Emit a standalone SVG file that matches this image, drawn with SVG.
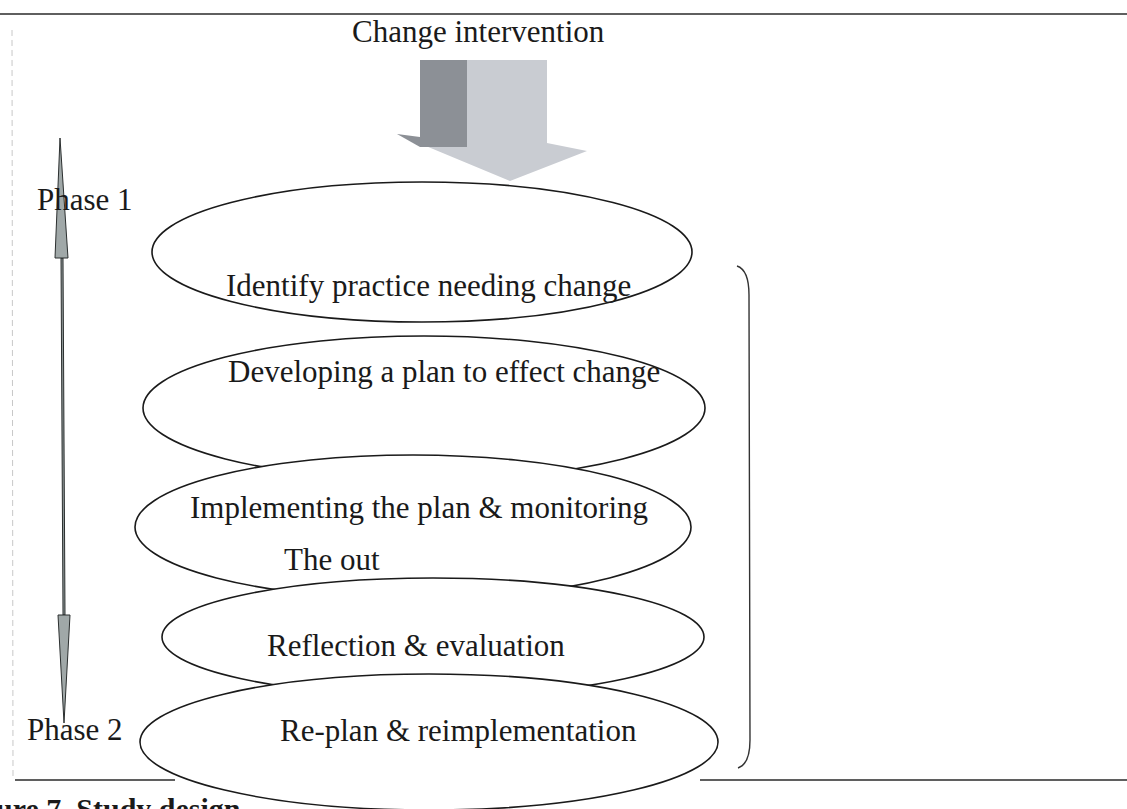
<svg xmlns="http://www.w3.org/2000/svg" width="1127" height="809" viewBox="0 0 1127 809">
<style>
.t{font-family:"Liberation Serif","Times New Roman",serif;font-size:31px;fill:#1a1a1a}
.e{fill:#fff;stroke:#1a1a1a;stroke-width:1.6}
.rule{stroke:#2a2a2a;stroke-width:1.6}
</style>
<rect width="1127" height="809" fill="#fff"/>
<g id="frame">
<line class="rule" x1="0" y1="14" x2="1127" y2="14"/>
<line class="rule" x1="15" y1="780" x2="175" y2="780"/>
<line class="rule" x1="700" y1="780" x2="1127" y2="780"/>
<line x1="12" y1="30" x2="13" y2="780" stroke="#c8c8c8" stroke-width="1" stroke-dasharray="6 4"/>
</g>
<text class="t" x="352" y="42">Change intervention</text>
<g id="connectors">
<g id="block-arrow">
<path d="M467,60 L547,60 L547,143 L587,151 L510,181 L397,134 L420,141 L420,147 L467,147 Z" fill="#c9ccd2"/>
<rect x="420" y="60" width="47" height="87" fill="#8c9096"/>
<path d="M397,134 L420,137 L420,147 Z" fill="#8c9096"/>
</g>
<g id="phase-arrow" stroke="#2b2f2f" stroke-width="1">
<path d="M61,258 L63,615 L65,615 L63,258 Z" fill="#8f9898"/>
<path d="M60,138 L55,258 L68,258 Z" fill="#a0a8a8"/>
<path d="M58,615 L70,615 L64,723 Z" fill="#a0a8a8"/>
</g>
</g>
<g id="bracket">
<path d="M737,266 Q749,270 749,295 L750,740 Q750,764 738,768" fill="none" stroke="#333" stroke-width="1.4"/>
</g>
<text class="t" x="37" y="210">Phase 1</text>
<text class="t" x="27" y="740">Phase 2</text>
<g id="node1">
<ellipse class="e" cx="422" cy="252" rx="270" ry="70"/>
<text class="t" x="226" y="296">Identify practice needing change</text>
</g>
<g id="node2">
<ellipse class="e" cx="424" cy="408" rx="281" ry="72"/>
<text class="t" x="228" y="382">Developing a plan to effect change</text>
</g>
<g id="node3">
<ellipse class="e" cx="413" cy="527" rx="278" ry="72"/>
<text class="t" x="190" y="518">Implementing the plan &amp; monitoring</text>
<text class="t" x="284" y="570">The out</text>
</g>
<g id="node4">
<ellipse class="e" cx="433" cy="637" rx="271" ry="59"/>
<text class="t" x="267" y="656">Reflection &amp; evaluation</text>
</g>
<g id="node5">
<ellipse class="e" cx="429" cy="742" rx="289" ry="68"/>
<text class="t" x="280" y="741">Re-plan &amp; reimplementation</text>
</g>
<text x="-4" y="819" style="font-family:'Liberation Serif',serif;font-size:30px;font-weight:bold;fill:#1a1a1a">ure 7. Study design</text>
</svg>
